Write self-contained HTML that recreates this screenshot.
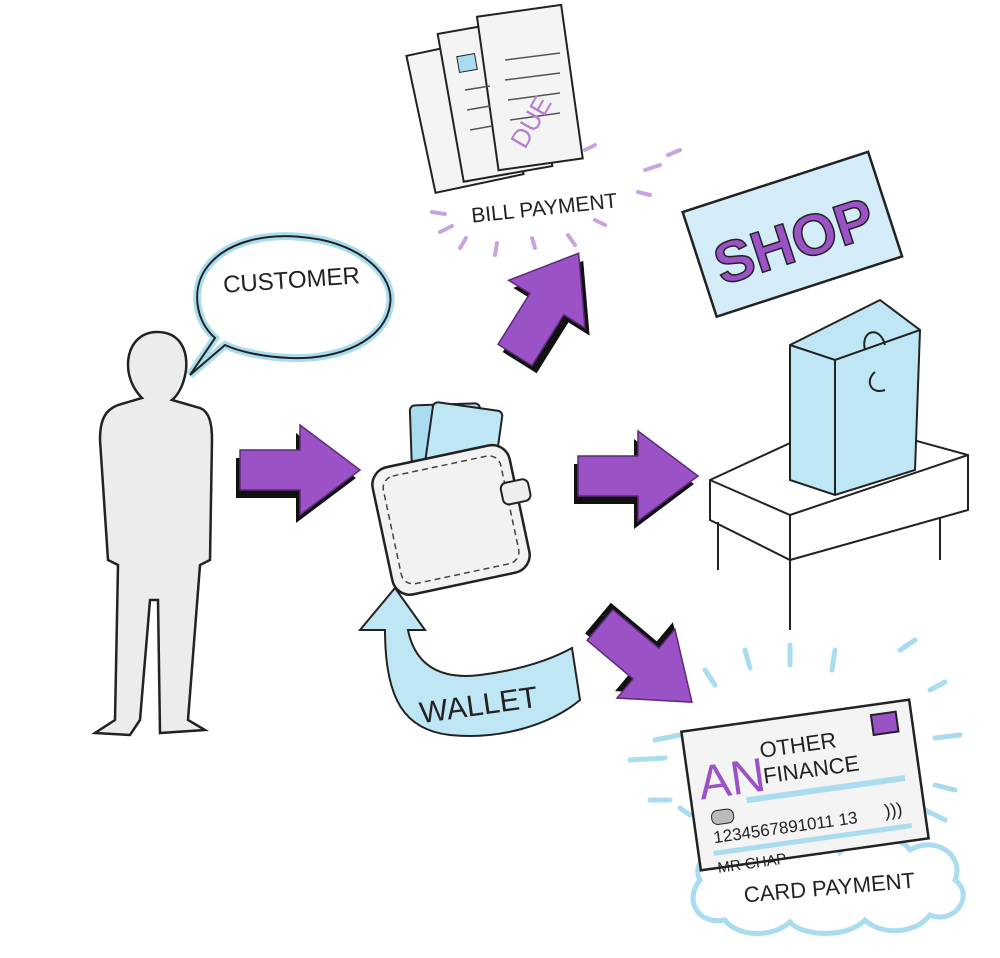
<!DOCTYPE html>
<html><head><meta charset="utf-8"><style>
html,body{margin:0;padding:0;background:#fff;}
svg{display:block;}
text{font-family:"Liberation Sans",sans-serif;}
</style></head><body>
<svg width="1000" height="958" viewBox="0 0 1000 958" xmlns="http://www.w3.org/2000/svg">
<defs>
<g id="arr">
<path d="M0,-20 L60,-20 L60,-45 L120,0 L60,45 L60,20 L0,20 Z"/>
</g>
</defs>

<!-- Person -->
<path d="M157,332 C180,332 188,350 186,370 C184,385 178,395 172,400 L200,408 C210,412 212,425 212,440 L210,560 L200,565 L188,720 L205,730 L160,733 L158,600 L150,600 L140,720 L130,735 L95,733 L115,720 L118,565 L108,560 L100,440 C100,420 105,410 118,405 L142,398 C134,390 128,378 128,365 C128,345 140,332 157,332 Z" fill="#ececec" stroke="#222" stroke-width="2.5"/>

<!-- Speech bubble -->
<path d="M190,375 L215,338 C195,320 192,290 205,270 C225,240 270,232 310,238 C360,244 395,275 390,305 C385,340 340,360 290,358 C265,357 240,352 225,345 Z" fill="#fff" stroke="#a9dcef" stroke-width="8"/>
<path d="M190,375 L215,338 C195,320 192,290 205,270 C225,240 270,232 310,238 C360,244 395,275 390,305 C385,340 340,360 290,358 C265,357 240,352 225,345 Z" fill="none" stroke="#222" stroke-width="2"/>
<text x="292" y="288" font-size="24" text-anchor="middle" fill="#222" transform="rotate(-4 292 288)">CUSTOMER</text>

<!-- Arrow 1 right -->
<g transform="translate(240,470)"><g transform="translate(-4,8)" fill="#111"><use href="#arr"/></g><g fill="#9b52c6" stroke="#5d2a7a" stroke-width="1.5"><use href="#arr"/></g></g>

<!-- Wallet -->
<g transform="rotate(-12 450 515)">
<rect x="425" y="405" width="70" height="95" rx="5" fill="#a9dcef" stroke="#222" stroke-width="2" transform="rotate(10 460 450)"/>
<rect x="440" y="410" width="70" height="95" rx="5" fill="#bfe6f4" stroke="#222" stroke-width="2" transform="rotate(20 475 455)"/>
<rect x="380" y="455" width="140" height="130" rx="18" fill="#f2f2f2" stroke="#222" stroke-width="2.5"/>
<rect x="390" y="465" width="120" height="110" rx="12" fill="none" stroke="#444" stroke-width="1.5" stroke-dasharray="6 4"/>
<rect x="505" y="495" width="28" height="22" rx="6" fill="#eee" stroke="#222" stroke-width="2"/>
</g>

<!-- Arrow up-right -->
<g transform="translate(515,355) rotate(-58)"><g transform="translate(-4,8)" fill="#111"><use href="#arr"/></g><g fill="#9b52c6" stroke="#5d2a7a" stroke-width="1.5"><use href="#arr"/></g></g>

<!-- Arrow right 2 -->
<g transform="translate(578,476)"><g transform="translate(-4,8)" fill="#111"><use href="#arr"/></g><g fill="#9b52c6" stroke="#5d2a7a" stroke-width="1.5"><use href="#arr"/></g></g>

<!-- Arrow down-right -->
<g transform="translate(600,625) rotate(40)"><g transform="translate(-6,-4)" fill="#111"><use href="#arr"/></g><g fill="#9b52c6" stroke="#5d2a7a" stroke-width="1.5"><use href="#arr"/></g></g>

<!-- Wallet curved arrow -->
<path d="M360,630 L395,588 L425,630 L408,630 C415,665 440,680 480,675 C520,670 550,660 572,648 L580,700 C550,725 500,740 450,735 C405,730 385,700 385,630 Z" fill="#bfe6f4" stroke="#222" stroke-width="2"/>
<text x="480" y="715" font-size="30" text-anchor="middle" fill="#222" transform="rotate(-8 480 715)">WALLET</text>

<!-- Bills -->
<g stroke="#222" stroke-width="2" fill="#f4f4f4">
<rect x="420" y="45" width="90" height="140" transform="rotate(-12 465 115)"/>
<rect x="450" y="25" width="90" height="150" transform="rotate(-10 495 100)"/>
<rect x="487" y="10" width="85" height="155" transform="rotate(-8 530 85)"/>
</g>
<g stroke="#555" stroke-width="1.5">
<line x1="505" y1="60" x2="560" y2="53"/><line x1="505" y1="80" x2="560" y2="73"/><line x1="508" y1="100" x2="560" y2="93"/><line x1="510" y1="120" x2="560" y2="113"/>
<line x1="465" y1="90" x2="490" y2="86"/><line x1="467" y1="110" x2="490" y2="106"/><line x1="470" y1="130" x2="492" y2="126"/>
</g>
<rect x="458" y="55" width="18" height="16" fill="#a9dcef" stroke="#222" transform="rotate(-10 467 63)"/>
<text x="525" y="150" font-size="26" fill="#b57ed6" transform="rotate(-60 525 150)">DUE</text>
<text x="545" y="215" font-size="21" text-anchor="middle" fill="#222" transform="rotate(-6 545 215)">BILL PAYMENT</text>
<g stroke="#c7a3e0" stroke-width="4" stroke-linecap="round">
<line x1="432" y1="212" x2="445" y2="214"/><line x1="440" y1="232" x2="452" y2="226"/><line x1="460" y1="248" x2="466" y2="238"/><line x1="495" y1="255" x2="497" y2="243"/>
<line x1="535" y1="248" x2="532" y2="238"/><line x1="575" y1="245" x2="568" y2="235"/><line x1="605" y1="225" x2="595" y2="220"/><line x1="650" y1="195" x2="638" y2="192"/>
<line x1="660" y1="165" x2="645" y2="170"/><line x1="680" y1="150" x2="668" y2="155"/><line x1="595" y1="145" x2="585" y2="150"/>
</g>

<!-- Shop sign -->
<g transform="rotate(-18 790 235)">
<rect x="695" y="180" width="195" height="110" fill="#d3ecf7" stroke="#222" stroke-width="2.5"/>
<text x="792" y="262" font-size="58" font-weight="bold" text-anchor="middle" fill="#9b52c6" stroke="#222" stroke-width="1.5">SHOP</text>
</g>

<!-- Table and bag -->
<path d="M710,480 L840,420 L968,455 L968,510 L790,560 L710,520 Z" fill="#fff" stroke="#222" stroke-width="2"/>
<path d="M710,480 L790,515 L968,455" fill="none" stroke="#222" stroke-width="2"/>
<line x1="790" y1="515" x2="790" y2="630" stroke="#222" stroke-width="2"/>
<line x1="718" y1="522" x2="718" y2="570" stroke="#222" stroke-width="2"/>
<line x1="940" y1="518" x2="940" y2="560" stroke="#222" stroke-width="2"/>
<path d="M790,345 L880,300 L920,330 L915,470 L835,495 L790,480 Z" fill="#bfe6f4" stroke="#222" stroke-width="2"/>
<path d="M790,345 L835,360 L920,330 M835,360 L835,495" fill="none" stroke="#222" stroke-width="2"/>
<path d="M865,350 C860,330 880,325 885,345 M885,390 C870,395 865,380 875,372" fill="none" stroke="#222" stroke-width="2"/>

<!-- Card -->
<g stroke="#a9dcef" stroke-width="5" stroke-linecap="round">
<line x1="705" y1="670" x2="715" y2="685"/><line x1="745" y1="650" x2="750" y2="668"/><line x1="790" y1="645" x2="790" y2="665"/><line x1="835" y1="650" x2="832" y2="670"/>
<line x1="900" y1="650" x2="915" y2="640"/><line x1="930" y1="690" x2="945" y2="682"/><line x1="935" y1="738" x2="960" y2="735"/><line x1="935" y1="785" x2="955" y2="790"/>
<line x1="925" y1="810" x2="945" y2="820"/><line x1="630" y1="760" x2="665" y2="758"/><line x1="655" y1="740" x2="680" y2="735"/><line x1="650" y1="800" x2="670" y2="800"/><line x1="680" y1="808" x2="690" y2="815"/>
</g>
<path d="M700,880 C690,860 715,845 735,858 C745,835 775,840 785,855 C800,835 835,840 840,852 C860,830 900,835 910,850 C935,835 965,855 955,880 C975,895 955,925 930,915 C915,935 880,935 865,920 C845,940 800,935 790,922 C770,940 735,935 725,920 C695,925 685,898 700,880 Z" fill="#fff" stroke="#a9dcef" stroke-width="5"/>
<text x="830" y="895" font-size="22" text-anchor="middle" fill="#222" transform="rotate(-5 830 895)">CARD PAYMENT</text>
<g transform="rotate(-8 805 785)">
<rect x="690" y="715" width="230" height="140" fill="#f4f4f4" stroke="#222" stroke-width="2.5"/>
<text x="700" y="785" font-size="48" fill="#9b52c6">AN</text>
<text x="765" y="752" font-size="22" fill="#222">OTHER</text>
<text x="765" y="778" font-size="22" fill="#222">FINANCE</text>
<rect x="880" y="725" width="25" height="20" fill="#9b52c6" stroke="#222" stroke-width="2"/>
<line x1="745" y1="792" x2="905" y2="792" stroke="#a9dcef" stroke-width="6"/>
<rect x="708" y="798" width="22" height="14" rx="6" fill="#bbb" stroke="#222"/>
<text x="707" y="830" font-size="17" fill="#222">1234567891011 13</text>
<line x1="705" y1="840" x2="905" y2="840" stroke="#a9dcef" stroke-width="5"/>
<text x="707" y="860" font-size="15" fill="#222">MR CHAP</text>
<text x="880" y="828" font-size="18" fill="#222">)))</text>
</g>
</svg>
</body></html>
